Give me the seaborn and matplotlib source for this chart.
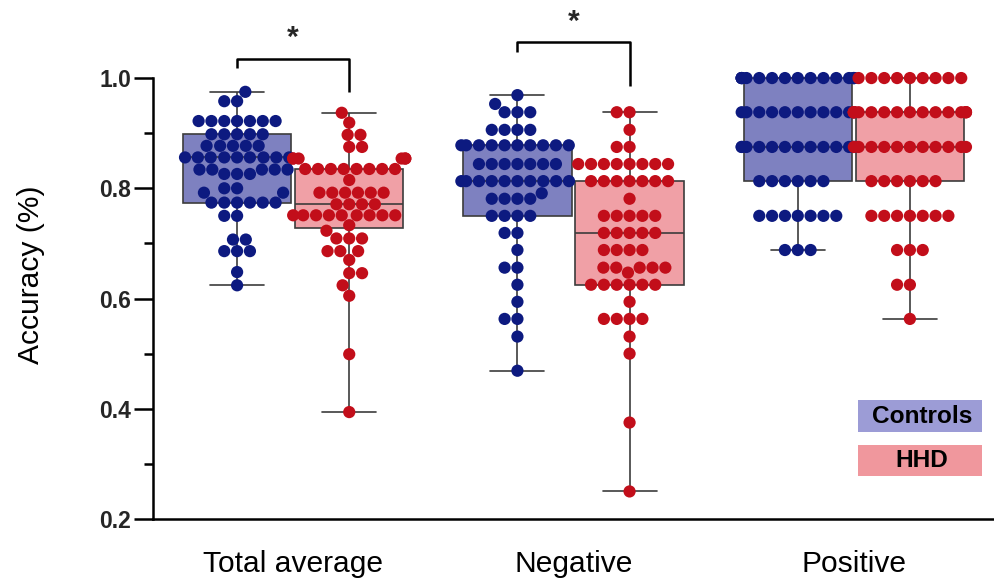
import numpy as np
import pandas as pd
import matplotlib
matplotlib.use("Agg")
import matplotlib.pyplot as plt
from matplotlib.patches import Rectangle
from matplotlib.ticker import FixedLocator, FormatStrFormatter
import seaborn as sns
from seaborn import categorical

conditions = ["Total average", "Negative", "Positive"]
groups = ["Controls", "HHD"]

total_ctrl_levels = [0.975, 0.958, 0.922, 0.898, 0.877, 0.856, 0.834, 0.826, 0.800, 0.792,
                     0.774, 0.750, 0.707, 0.686, 0.648, 0.624]
total_ctrl_counts = [1, 2, 7, 5, 5, 9, 5, 3, 2, 2, 6, 2, 2, 3, 1, 1]

total_hhd_levels = [0.937, 0.919, 0.897, 0.875, 0.854, 0.835, 0.815, 0.792, 0.771, 0.751,
                    0.733, 0.723, 0.709, 0.686, 0.670, 0.646, 0.624, 0.605, 0.499, 0.394]
total_hhd_counts = [1, 1, 2, 2, 6, 8, 1, 6, 4, 9, 1, 1, 3, 3, 1, 2, 1, 1, 1, 1]

neg_ctrl_levels = [0.969, 0.953, 0.938, 0.906, 0.878, 0.844, 0.813, 0.791, 0.781, 0.750,
                   0.719, 0.688, 0.656, 0.625, 0.594, 0.563, 0.531, 0.469]
neg_ctrl_counts = [1, 1, 3, 4, 10, 7, 10, 1, 4, 4, 2, 1, 2, 1, 1, 2, 1, 1]

neg_hhd_levels = [0.938, 0.906, 0.875, 0.844, 0.813, 0.781, 0.750, 0.719, 0.688, 0.656,
                  0.647, 0.625, 0.594, 0.563, 0.531, 0.500, 0.375, 0.250]
neg_hhd_counts = [2, 1, 2, 8, 7, 1, 5, 5, 4, 5, 1, 6, 1, 4, 1, 1, 1, 1]

pos_ctrl_levels = [1.000, 0.938, 0.875, 0.813, 0.750, 0.688]
pos_ctrl_counts = [16, 11, 13, 6, 7, 3]

pos_hhd_levels = [1.000, 0.938, 0.875, 0.813, 0.750, 0.688, 0.625, 0.563]
pos_hhd_counts = [9, 16, 11, 6, 7, 3, 2, 1]

box_colors = {"Controls": "#7e81c0", "HHD": "#f0a0a6"}
dot_colors = {"Controls": "#0d1a80", "HHD": "#c20e1a"}
legend_colors = {"Controls": "#9c9cd6", "HHD": "#f0979d"}

series = [
    ("Total average", "Controls", total_ctrl_levels, total_ctrl_counts),
    ("Total average", "HHD", total_hhd_levels, total_hhd_counts),
    ("Negative", "Controls", neg_ctrl_levels, neg_ctrl_counts),
    ("Negative", "HHD", neg_hhd_levels, neg_hhd_counts),
    ("Positive", "Controls", pos_ctrl_levels, pos_ctrl_counts),
    ("Positive", "HHD", pos_hhd_levels, pos_hhd_counts),
]
df = pd.concat([
    pd.DataFrame({"condition": c, "group": g, "accuracy": np.repeat(lv, ct)})
    for c, g, lv, ct in series
], ignore_index=True)


# dodged swarms keep the full 0.8 gutter; squeeze them to the width of one box
class NarrowBeeswarm(categorical.Beeswarm):
    def __init__(self, orient="x", width=0.8, warn_thresh=.05):
        super().__init__(orient=orient, width=width / 2, warn_thresh=warn_thresh)


categorical.Beeswarm = NarrowBeeswarm

sns.set_theme(style="white")
plt.rcParams["font.family"] = ["Liberation Sans", "DejaVu Sans"]

fig = plt.figure(figsize=(9.94, 5.86), dpi=100)
ax = fig.add_axes([153 / 994, 67 / 586, 841 / 994, 519 / 586])

sns.boxplot(data=df, x="condition", y="accuracy", hue="group", order=conditions,
            hue_order=groups, palette=box_colors, saturation=1, width=0.8, gap=0.035,
            whis=(0, 100), showfliers=False, linewidth=1.2, linecolor="#3c3c3c",
            legend=False, ax=ax)
sns.swarmplot(data=df, x="condition", y="accuracy", hue="group", order=conditions,
              hue_order=groups, palette=dot_colors, dodge=True, size=8.8, linewidth=0,
              legend=False, warn_thresh=1, zorder=3, ax=ax)

ax.set_xlim(-0.5, 2.5)
ax.set_ylim(0.2, 1.1416)
ax.spines[["top", "right"]].set_visible(False)
for s in ["left", "bottom"]:
    ax.spines[s].set_linewidth(1.8)
    ax.spines[s].set_color("black")
ax.spines["left"].set_bounds(0.2, 1.0)

ax.yaxis.set_major_locator(FixedLocator([0.2, 0.4, 0.6, 0.8, 1.0]))
ax.yaxis.set_minor_locator(FixedLocator([0.3, 0.5, 0.7, 0.9]))
ax.yaxis.set_major_formatter(FormatStrFormatter("%.1f"))
ax.tick_params(axis="y", which="major", length=13.7, width=1.8, pad=2,
               labelsize=16.5, color="black", left=True)
ax.tick_params(axis="y", which="minor", length=6.5, width=1.8, color="black", left=True)
for lab in ax.get_yticklabels():
    lab.set_fontweight("bold")
ax.tick_params(axis="x", length=0, labelsize=21.6, pad=22, labelcolor="black")

ax.set_xlabel("")
ax.set_ylabel("Accuracy (%)", fontsize=21.6, color="black")
ax.yaxis.set_label_coords(-0.128, 0.47)

# significance brackets
ax.plot([-0.2, -0.2, 0.2, 0.2], [1.018, 1.0345, 1.0345, 0.975], color="black",
        lw=1.8, clip_on=False, solid_capstyle="butt")
ax.text(0, 1.058, "*", ha="center", va="baseline", fontsize=21.6, fontweight="bold")
ax.plot([0.8, 0.8, 1.2, 1.2], [1.048, 1.066, 1.066, 0.985], color="black",
        lw=1.8, clip_on=False, solid_capstyle="butt")
ax.text(1, 1.087, "*", ha="center", va="baseline", fontsize=21.6, fontweight="bold")

# legend boxes
for g, y0, h, ty in [("Controls", 0.2628, 0.0546, 0.290), ("HHD", 0.1877, 0.0529, 0.2142)]:
    fig.patches.append(Rectangle((0.863, y0), 0.1248, h, transform=fig.transFigure,
                                 facecolor=legend_colors[g], edgecolor="none"))
    fig.text(0.9276, ty, g, ha="center", va="center", fontsize=17.6,
             fontweight="bold", color="black")

fig.savefig("out.png", dpi=100)
